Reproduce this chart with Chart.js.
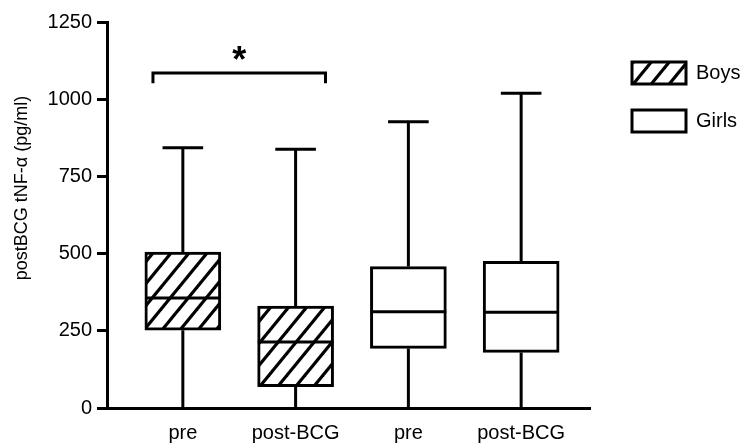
<!DOCTYPE html>
<html><head><meta charset="utf-8">
<script src="https://cdn.jsdelivr.net/npm/chart.js@4"></script>
<style>html,body{margin:0;padding:0;background:#fff}#wrap{width:744px;height:443px}</style>
</head><body><div id="wrap"><canvas id="c" width="744" height="443"></canvas></div>
<script>
// ---- data ----
const categories = ['pre', 'post-BCG', 'pre', 'post-BCG'];
const groups = ['Boys', 'Boys', 'Girls', 'Girls'];
const seriesNames = ['Boys', 'Girls'];
const whiskerLow = [0, 0, 0, 0];
const quartile1 = [252, 69, 193, 180];
const medians = [356, 214, 312, 310];
const quartile3 = [505, 330, 458, 475];
const whiskerHigh = [843, 838, 927, 1019];
const yTickValues = [0, 250, 500, 750, 1000, 1250];
const yAxisTitle = 'postBCG tNF-\u03b1 (pg/ml)';
const sigPairs = [[0, 1]];
const sigLevels = [1085];
const sigLabels = ['*'];

// ---- styling ----
const FONT = '"Liberation Sans", Arial, Helvetica, sans-serif';
const BOX_HALF = 0.336;   // half box width in category units
const CAP_HALF = 0.18;
const BRACKET_OUT = 0.265;
const BRACKET_DROP = 33;

function hatchPattern(ctx) {
  const w = 18, h = 22;
  const c = document.createElement('canvas');
  c.width = w; c.height = h;
  const g = c.getContext('2d');
  g.fillStyle = '#fff'; g.fillRect(0, 0, w, h);
  g.strokeStyle = '#000'; g.lineWidth = 3.2;
  for (const dx of [-w, 0, w]) {
    g.beginPath();
    g.moveTo(dx - w * 0.5, h * 1.5);
    g.lineTo(dx + w * 1.5, -h * 0.5);
    g.stroke();
  }
  return ctx.createPattern(c, 'repeat');
}

const canvas = document.getElementById('c');
const ctx0 = canvas.getContext('2d');
const hatch = hatchPattern(ctx0);
const fills = { Boys: hatch, Girls: '#ffffff' };

const boxDatasets = seriesNames.map(name => ({
  type: 'bar',
  label: name,
  data: categories.map((c, i) => groups[i] === name ? { x: i + 1, y: [quartile1[i], quartile3[i]] } : null).filter(Boolean),
  backgroundColor: fills[name],
  borderColor: '#000',
  borderWidth: 3,
  borderSkipped: false,
  barThickness: 76,
  grouped: false,
  order: 1
}));

const whiskerPts = [];
const medianPts = [];
categories.forEach((c, i) => {
  const x = i + 1;
  whiskerPts.push({ x, y: whiskerLow[i] }, { x, y: quartile1[i] }, { x, y: null },
                  { x, y: quartile3[i] }, { x, y: whiskerHigh[i] }, { x, y: null },
                  { x: x - CAP_HALF, y: whiskerHigh[i] }, { x: x + CAP_HALF, y: whiskerHigh[i] }, { x, y: null });
  medianPts.push({ x: x - BOX_HALF, y: medians[i] }, { x: x + BOX_HALF, y: medians[i] }, { x, y: null });
});

const bracketPts = [];
sigPairs.forEach(([a, b], k) => {
  const lv = sigLevels[k];
  bracketPts.push({ x: a + 1 - BRACKET_OUT, y: lv - BRACKET_DROP }, { x: a + 1 - BRACKET_OUT, y: lv },
                  { x: b + 1 + BRACKET_OUT, y: lv }, { x: b + 1 + BRACKET_OUT, y: lv - BRACKET_DROP }, { x: a + 1, y: null });
});

const lineBase = { type: 'line', borderColor: '#000', borderWidth: 3, pointRadius: 0, fill: false, tension: 0, spanGaps: false, borderCapStyle: 'butt', borderJoinStyle: 'miter' };

const datasets = [
  ...boxDatasets,
  Object.assign({}, lineBase, { label: '', data: whiskerPts, order: 2 }),
  Object.assign({}, lineBase, { label: '', data: medianPts, order: 0 }),
  Object.assign({}, lineBase, { label: '', data: bracketPts, order: 0, clip: false })
];

const annot = {
  id: 'annot',
  afterLayout(chart) {
    const lg = chart.legend;
    if (!lg) return;
    const pad = lg.options.labels.padding;
    const dx = 632 - pad - lg.left;
    const dy = 62 - pad - lg.top;
    lg.left += dx; lg.right += dx; lg.top += dy; lg.bottom += dy;
  },
  afterDraw(chart) {
    const { ctx, scales: { x, y } } = chart;
    ctx.save();
    ctx.fillStyle = '#000';
    // y axis title
    ctx.font = '18px ' + FONT;
    ctx.textAlign = 'center';
    ctx.textBaseline = 'middle';
    ctx.translate(22, 188);
    ctx.rotate(-Math.PI / 2);
    ctx.fillText(yAxisTitle, 0, 0);
    ctx.setTransform(1, 0, 0, 1, 0, 0);
    // significance marks
    ctx.font = 'bold 36px ' + FONT;
    ctx.textAlign = 'left';
    ctx.textBaseline = 'alphabetic';
    sigPairs.forEach(([a, b], k) => {
      const cx = x.getPixelForValue((a + b) / 2 + 1);
      const cy = y.getPixelForValue(sigLevels[k] + 63);
      const m = ctx.measureText(sigLabels[k]);
      const gw = m.actualBoundingBoxRight + m.actualBoundingBoxLeft;
      const gh = m.actualBoundingBoxAscent + m.actualBoundingBoxDescent;
      ctx.fillText(sigLabels[k], cx - gw / 2 + m.actualBoundingBoxLeft, cy - gh / 2 + m.actualBoundingBoxAscent);
    });
    ctx.restore();
  }
};

new Chart(canvas, {
  type: 'bar',
  data: { datasets },
  plugins: [annot],
  options: {
    responsive: false,
    animation: false,
    devicePixelRatio: 1,
    layout: { padding: { top: 22, left: 0, right: 0, bottom: 0 } },
    plugins: {
      tooltip: { enabled: false },
      title: { display: false },
      legend: {
        position: 'right',
        align: 'start',
        onResize: null,
        labels: {
          boxWidth: 54,
          boxHeight: 22,
          padding: 26,
          color: '#000',
          font: { family: FONT, size: 20 },
          filter: item => seriesNames.includes(item.text)
        },
        afterFit: null
      }
    },
    scales: {
      x: {
        type: 'linear',
        min: 0.3274,
        max: 4.6106,
        offset: false,
        grid: { display: false },
        border: { display: true, color: '#000', width: 3 },
        afterBuildTicks: s => { s.ticks = categories.map((c, i) => ({ value: i + 1 })); },
        afterFit: s => { s.height = 35; },
        afterUpdate: s => {},
        ticks: {
          autoSkip: false,
          maxRotation: 0,
          padding: 5,
          color: '#000',
          font: { family: FONT, size: 20 },
          callback: (v, i) => categories[i]
        }
      },
      y: {
        type: 'linear',
        min: 0,
        max: 1250,
        afterBuildTicks: s => { s.ticks = yTickValues.map(v => ({ value: v })); },
        afterFit: s => { s.width = 107; },
        grid: { display: true, drawOnChartArea: false, drawTicks: true, tickLength: 10, tickWidth: 3, tickColor: '#000' },
        border: { display: true, color: '#000', width: 3 },
        ticks: { padding: 5, color: '#000', font: { family: FONT, size: 20 }, callback: v => String(v) }
      }
    }
  }
});
// keep the plot area's right edge where the reference's axis ends
(function fixRight() {
  const ch = Chart.getChart(canvas);
  const want = 590;
  const diff = ch.chartArea.right - want;
  if (Math.abs(diff) > 0.5) {
    ch.options.layout.padding.right = diff;
    ch.update();
  }
})();
</script>
</body></html>
